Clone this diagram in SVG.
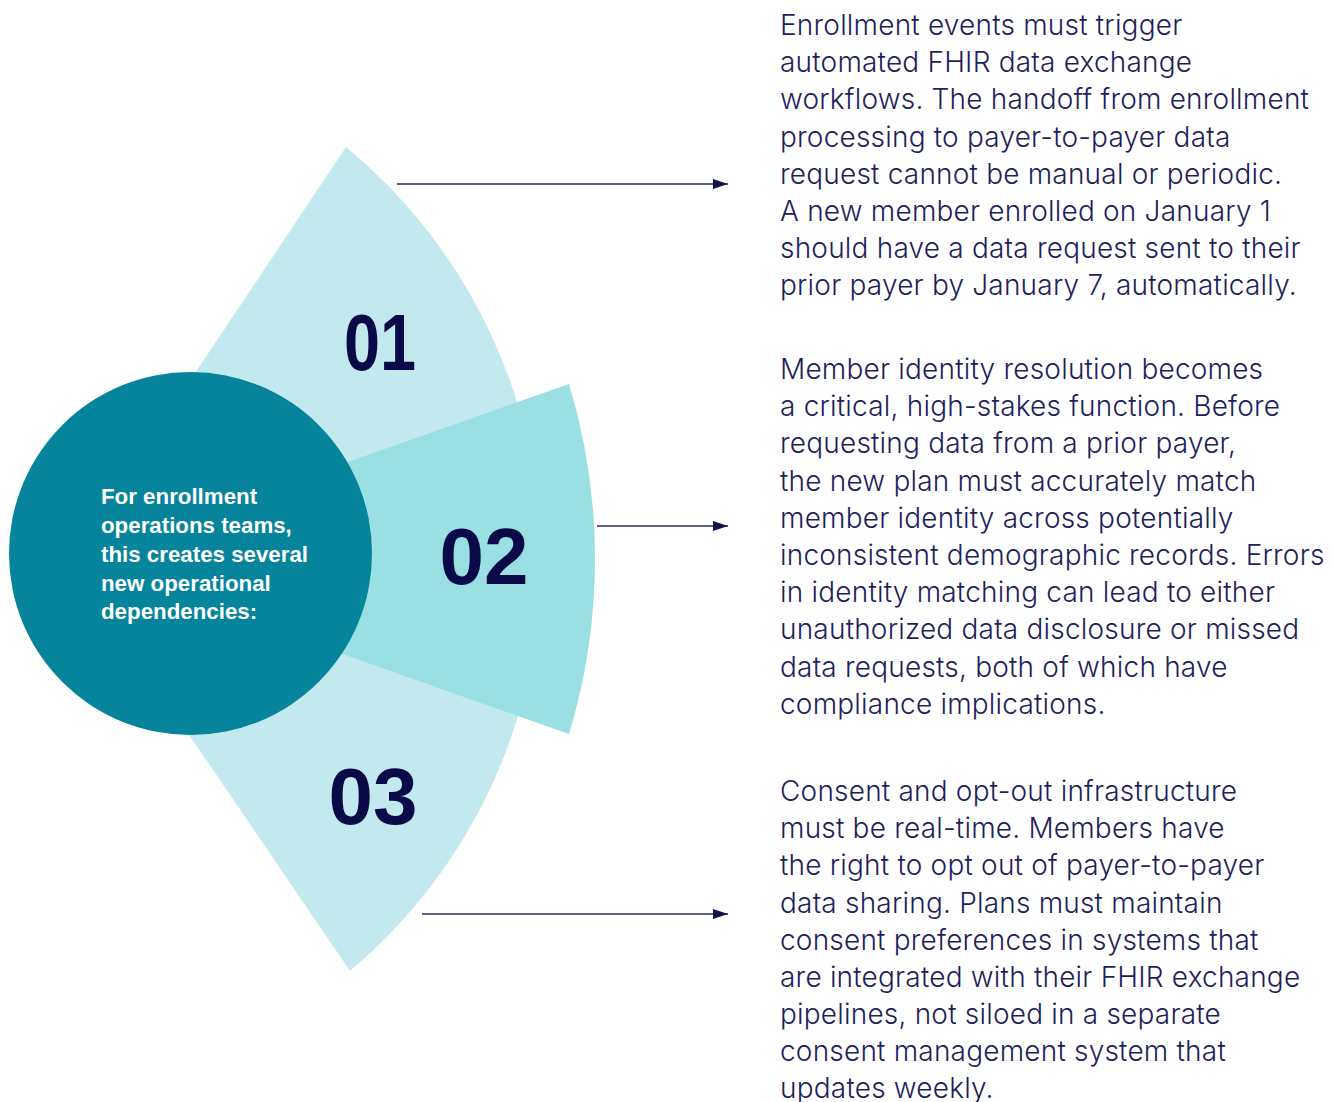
<svg xmlns="http://www.w3.org/2000/svg" width="1333" height="1102" viewBox="0 0 1333 1102">
  <style>
    .light { fill: #c2eaee; }
    .mid { fill: #9adfe2; }
    .hub { fill: #05849b; }
    .num { font-family: "Liberation Sans", Arial, sans-serif; font-weight: 700; font-size: 80px; fill: #0a0a48; text-anchor: middle; }
    .hubtext { font-family: "Liberation Sans", Arial, sans-serif; font-weight: 700; font-size: 22.3px; fill: #ffffff; }
    .body { font-family: Inter, "Liberation Sans", sans-serif; font-weight: 300; font-size: 28px; letter-spacing: 0.2px; fill: #1f1f5c; }
    .link { stroke: #2b2b60; stroke-width: 1.4; fill: none; marker-end: url(#head); }
  </style>
  <defs>
    <marker id="head" markerUnits="userSpaceOnUse" markerWidth="16" markerHeight="12" refX="15" refY="5" orient="auto">
      <path d="M0,0 L15,5 L0,10 Z" fill="#14144c"/>
    </marker>
  </defs>

  <rect width="1333" height="1102" fill="#ffffff"/>

  <!-- fan segments behind the hub -->
  <g id="sector-01">
    <path class="light" d="M70,560 L346,147 A536,536 0 0 1 541,560 Z"/>
    <text class="num" x="380" y="370" textLength="72" lengthAdjust="spacingAndGlyphs">01</text>
  </g>
  <g id="sector-03">
    <path class="light" d="M70,560 L541,560 A536,536 0 0 1 350,971 Z"/>
    <text class="num" x="373" y="824">03</text>
  </g>
  <g id="sector-02">
    <path class="mid" d="M73,559 L569,384 A602,602 0 0 1 569,734 Z"/>
    <text class="num" x="484" y="584">02</text>
  </g>

  <!-- central hub -->
  <g id="hub">
    <circle class="hub" cx="190.5" cy="553.5" r="181.5"/>
    <text class="hubtext">
      <tspan x="101" y="504">For enrollment</tspan>
      <tspan x="101" y="533">operations teams,</tspan>
      <tspan x="101" y="562">this creates several</tspan>
      <tspan x="101" y="591">new operational</tspan>
      <tspan x="101" y="619">dependencies:</tspan>
    </text>
  </g>

  <!-- connectors from each segment to its description -->
  <g id="connectors">
    <line class="link" x1="397" y1="184" x2="728" y2="184"/>
    <line class="link" x1="597" y1="526" x2="728" y2="526"/>
    <line class="link" x1="422" y1="914" x2="728" y2="914"/>
  </g>

  <g id="text-01">
    <text class="body">
      <tspan x="780" y="35">Enrollment events must trigger</tspan>
      <tspan x="780" y="72.2">automated FHIR data exchange</tspan>
      <tspan x="780" y="109.4">workflows. The handoff from enrollment</tspan>
      <tspan x="780" y="146.6">processing to payer-to-payer data</tspan>
      <tspan x="780" y="183.8">request cannot be manual or periodic.</tspan>
      <tspan x="780" y="221">A new member enrolled on January 1</tspan>
      <tspan x="780" y="258.2">should have a data request sent to their</tspan>
      <tspan x="780" y="295.4">prior payer by January 7, automatically.</tspan>
    </text>
  </g>

  <g id="text-02">
    <text class="body">
      <tspan x="780" y="379">Member identity resolution becomes</tspan>
      <tspan x="780" y="416.2">a critical, high-stakes function. Before</tspan>
      <tspan x="780" y="453.4">requesting data from a prior payer,</tspan>
      <tspan x="780" y="490.6">the new plan must accurately match</tspan>
      <tspan x="780" y="527.8">member identity across potentially</tspan>
      <tspan x="780" y="565">inconsistent demographic records. Errors</tspan>
      <tspan x="780" y="602.2">in identity matching can lead to either</tspan>
      <tspan x="780" y="639.4">unauthorized data disclosure or missed</tspan>
      <tspan x="780" y="676.6">data requests, both of which have</tspan>
      <tspan x="780" y="713.8">compliance implications.</tspan>
    </text>
  </g>

  <g id="text-03">
    <text class="body">
      <tspan x="780" y="801">Consent and opt-out infrastructure</tspan>
      <tspan x="780" y="838.2">must be real-time. Members have</tspan>
      <tspan x="780" y="875.4">the right to opt out of payer-to-payer</tspan>
      <tspan x="780" y="912.6">data sharing. Plans must maintain</tspan>
      <tspan x="780" y="949.8">consent preferences in systems that</tspan>
      <tspan x="780" y="987">are integrated with their FHIR exchange</tspan>
      <tspan x="780" y="1024.2">pipelines, not siloed in a separate</tspan>
      <tspan x="780" y="1061.4">consent management system that</tspan>
      <tspan x="780" y="1098">updates weekly.</tspan>
    </text>
  </g>
</svg>
